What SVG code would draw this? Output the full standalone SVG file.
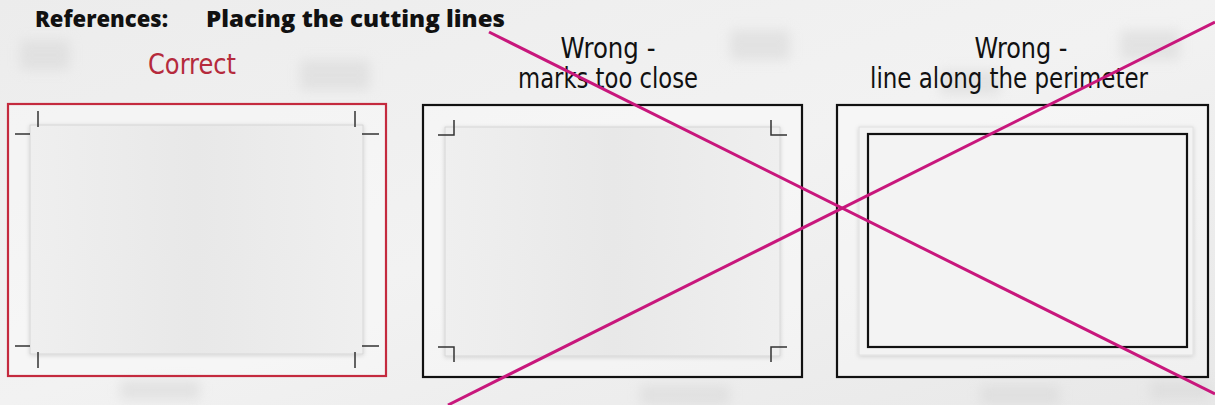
<svg xmlns="http://www.w3.org/2000/svg" width="1215" height="405" viewBox="0 0 1215 405">
  <style>
    .hdr { font-family: "Open Sans", "Liberation Sans", sans-serif; font-weight: 800; font-size: 22px; fill: #111; }
    .hand { font-family: "Liberation Sans Narrow", "DejaVu Sans Condensed", "Liberation Sans", sans-serif; font-size: 28px; fill: #111; text-anchor: middle; }
    .hand.ok { fill: #b52a3c; }
    .frame { fill: #ffffff; fill-opacity: 0.35; stroke: #111; stroke-width: 2.2; }
    .frame.ok { stroke: #c42a3e; }
    .card { fill: url(#cardGrad); stroke: #d6d6d6; stroke-width: 1; filter: url(#shadow); }
    .mark { stroke: #333; stroke-width: 1.5; fill: none; }
    .cut { stroke: #111; stroke-width: 2.2; fill: none; }
    .x { stroke: #c8177c; stroke-width: 3; fill: none; }
  </style>
  <defs>
    <linearGradient id="bgGrad" x1="0" y1="0" x2="1" y2="1">
      <stop offset="0" stop-color="#ececec"/>
      <stop offset="0.5" stop-color="#f2f2f2"/>
      <stop offset="1" stop-color="#e8e8e8"/>
    </linearGradient>
    <linearGradient id="cardGrad" x1="0" y1="0" x2="1" y2="0">
      <stop offset="0" stop-color="#efefef"/>
      <stop offset="0.5" stop-color="#e8e8e8"/>
      <stop offset="1" stop-color="#efefef"/>
    </linearGradient>
    <filter id="shadow" x="-5%" y="-5%" width="110%" height="110%">
      <feDropShadow dx="0" dy="1" stdDeviation="2" flood-color="#000" flood-opacity="0.15"/>
    </filter>
    <filter id="blur" x="-20%" y="-20%" width="140%" height="140%">
      <feGaussianBlur stdDeviation="6"/>
    </filter>
  </defs>

  <!-- background -->
  <rect x="0" y="0" width="1215" height="405" fill="url(#bgGrad)"/>
  <g id="texture" filter="url(#blur)" fill="#d9d9d9" opacity="0.6">
    <rect x="20" y="40" width="50" height="30"/>
    <rect x="300" y="60" width="70" height="30"/>
    <rect x="730" y="30" width="60" height="30"/>
    <rect x="940" y="70" width="60" height="25"/>
    <rect x="1120" y="30" width="60" height="30"/>
    <rect x="120" y="380" width="80" height="20"/>
    <rect x="640" y="385" width="90" height="20"/>
    <rect x="980" y="385" width="80" height="20"/>
    <rect x="1150" y="380" width="60" height="20"/>
  </g>

  <!-- header -->
  <g id="header">
    <text class="hdr" x="168" y="27" text-anchor="end">References:</text>
    <text class="hdr" x="206" y="27" textLength="299" lengthAdjust="spacingAndGlyphs">Placing the cutting lines</text>
  </g>

  <!-- panel 1: correct -->
  <g id="panel-correct">
    <text class="hand ok" x="192" y="74" textLength="88" lengthAdjust="spacingAndGlyphs">Correct</text>
    <rect class="frame ok" x="8" y="104" width="378" height="272"/>
    <rect class="card" x="30" y="125" width="333" height="229"/>
    <path class="mark" d="M38 111 V127 M15 134 H30 M355 111 V127 M362 134 H379 M15 346 H30 M38 352 V368 M362 346 H379 M355 352 V368"/>
  </g>

  <!-- panel 2: marks too close -->
  <g id="panel-too-close">
    <text class="hand" x="608" y="58" textLength="95" lengthAdjust="spacingAndGlyphs">Wrong -</text>
    <text class="hand" x="608" y="88" textLength="180" lengthAdjust="spacingAndGlyphs">marks too close</text>
    <rect class="frame" x="423" y="105" width="379" height="272"/>
    <rect class="card" x="445" y="127" width="335" height="229"/>
    <path class="mark" d="M454 120 V135 H438 M771 120 V135 H787 M438 347 H454 V362 M787 347 H771 V362"/>
  </g>

  <!-- panel 3: line along the perimeter -->
  <g id="panel-perimeter">
    <text class="hand" x="1021" y="58" textLength="93" lengthAdjust="spacingAndGlyphs">Wrong -</text>
    <text class="hand" x="1009" y="88" textLength="278" lengthAdjust="spacingAndGlyphs">line along the perimeter</text>
    <rect class="frame" x="837" y="105" width="371" height="272"/>
    <rect x="859" y="127" width="334" height="228" fill="#f3f3f3" stroke="#e0e0e0" stroke-width="1" filter="url(#shadow)"/>
    <rect class="cut" x="868" y="134" width="319" height="213" fill="#e9e9e9"/>
  </g>

  <!-- crossing lines -->
  <g id="connectors">
    <line class="x" x1="489" y1="32" x2="1215" y2="394"/>
    <line class="x" x1="448" y1="405" x2="1215" y2="22"/>
  </g>
</svg>
